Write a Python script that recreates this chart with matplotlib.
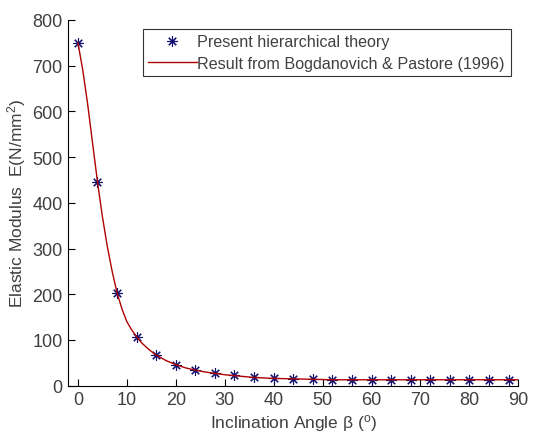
import numpy as np
import matplotlib
matplotlib.use("Agg")
import matplotlib.pyplot as plt

plt.rcParams['font.family'] = ['Liberation Sans', 'DejaVu Sans']
plt.rcParams['mathtext.fontset'] = 'custom'
plt.rcParams['mathtext.rm'] = 'Liberation Sans'
plt.rcParams['mathtext.it'] = 'Liberation Sans'

# Present hierarchical theory (markers)
angle_pts = [0, 4, 8, 12, 16, 20, 24, 28, 32, 36, 40, 44, 48, 52, 56, 60,
             64, 68, 72, 76, 80, 84, 88]
modulus_pts = [750, 446, 203, 107, 67, 46, 34, 28, 23, 18, 16, 15, 14, 13, 13, 13,
               13, 13, 13, 13, 13, 13, 13]

# Bogdanovich & Pastore (1996) curve
angle_line = [0, 1, 2, 3, 4, 5, 6, 7, 8, 9, 10, 11, 12, 13, 14, 15, 16, 18, 20,
              22, 24, 26, 28, 30, 32, 36, 40, 44, 48, 52, 60, 70, 80, 90]
modulus_line = [750, 690, 615, 530, 446, 370, 305, 250, 203, 168, 140, 122, 107,
                94, 84, 75, 67, 55, 46, 39, 34, 30, 27, 24, 22, 18, 16, 15, 14,
                13, 13, 13, 13, 13]

text_color = '#404040'

fig = plt.figure(figsize=(5.45, 4.35), dpi=100)
ax = fig.add_axes([0.125, 0.111, 0.826, 0.841])

ax.plot(angle_pts, modulus_pts, linestyle='none', marker=(8, 2, 0),
        color='#101070', markersize=7.5, markeredgewidth=0.8,
        label='Present hierarchical theory')
ax.plot(angle_line, modulus_line, '-', color='#b00000', linewidth=1,
        label='Result from Bogdanovich & Pastore (1996)')

ax.set_xlim(-2, 90)
ax.set_ylim(0, 800)
ax.set_xticks(range(0, 91, 10))
ax.set_yticks(range(0, 801, 100))

for side in ['top', 'right']:
    ax.spines[side].set_visible(False)
ax.tick_params(direction='in', length=5, labelsize=13, colors='black',
               labelcolor=text_color, pad=4)

ax.set_xlabel(r'Inclination Angle β ($^{\rm o}$)', fontsize=12.5,
              color=text_color, labelpad=3)
ax.set_ylabel(r'Elastic Modulus  E(N/mm$^{\rm 2}$)', fontsize=12.5,
              color=text_color, labelpad=3)

leg = ax.legend(loc='upper right', bbox_to_anchor=(0.99, 0.985), fontsize=11.6,
                frameon=True, fancybox=False, handlelength=3.0,
                handletextpad=0.05, borderpad=0.35, labelspacing=0.4,
                borderaxespad=0.2, labelcolor=text_color)
leg.get_frame().set_edgecolor('black')
leg.get_frame().set_linewidth(0.8)

fig.savefig('out.png', dpi=100)
